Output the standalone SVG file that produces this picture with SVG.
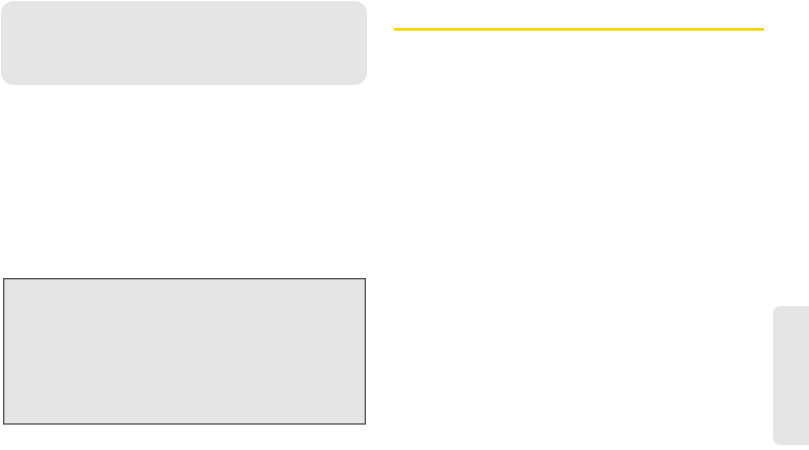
<svg xmlns="http://www.w3.org/2000/svg" width="809" height="450" viewBox="0 0 809 450">
<style>
.panel{fill:#e5e5e5}
.boxed{fill:#e5e5e5;stroke:#4d4d4d;stroke-width:1.3}
.rule{stroke:#f9d500;stroke-width:2.7}
</style>
<rect width="809" height="450" fill="#ffffff"/>
<g id="header-panel"><rect class="panel" x="1" y="1" width="366" height="84" rx="13" ry="13"/></g>
<g id="title-rule"><line class="rule" x1="394" y1="29.3" x2="764" y2="29.3"/></g>
<g id="note-box"><rect class="boxed" x="3.7" y="278.7" width="361.6" height="145.3"/></g>
<g id="side-tab"><path class="panel" d="M809,306 H781 Q773,306 773,314 V437 Q773,445 781,445 H809 Z"/></g>
</svg>
